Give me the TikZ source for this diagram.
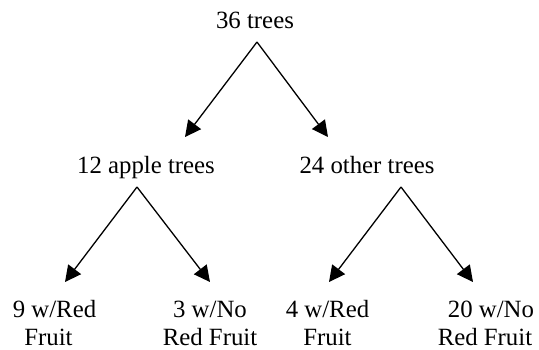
\documentclass[tikz,border=0pt]{standalone}
\usepackage{fontspec}
\setmainfont{Liberation Serif}
\usetikzlibrary{arrows.meta}
\begin{document}
\begin{tikzpicture}[x=1pt,y=-1pt,
  lbl/.style={inner sep=0pt, font=\fontsize{24.8}{27.5}\selectfont, align=center},
  arr/.style={line width=1.3pt, -{Triangle[length=16pt,width=16pt]}}]
\useasboundingbox (0,0) rectangle (539,349);
\node[lbl, anchor=base] (root) at (255,28) {36 trees};
\node[lbl, anchor=base] (apple) at (146,173) {12 apple trees};
\node[lbl, anchor=base] (other) at (367,173) {24 other trees};
\node[lbl, anchor=base] (a1) at (48.5,345) {\hspace*{12pt}9 w/Red\\Fruit};
\node[lbl, anchor=base] (a2) at (210,345) {3 w/No\\Red Fruit};
\node[lbl, anchor=base] (o1) at (327.5,345) {4 w/Red\\Fruit};
\node[lbl, anchor=base] (o2) at (485,345) {\hspace*{12pt}20 w/No\\Red Fruit};
\coordinate (rootout) at (257,42);
\coordinate (applein) at (185,137);
\coordinate (otherin) at (328,137);
\coordinate (appleout) at (137,187);
\coordinate (otherout) at (401,187);
\coordinate (a1in) at (65,282);
\coordinate (a2in) at (210,282);
\coordinate (o1in) at (329,282);
\coordinate (o2in) at (473,282);
\draw[arr] (rootout) -- (applein);
\draw[arr] (rootout) -- (otherin);
\draw[arr] (appleout) -- (a1in);
\draw[arr] (appleout) -- (a2in);
\draw[arr] (otherout) -- (o1in);
\draw[arr] (otherout) -- (o2in);
\end{tikzpicture}
\end{document}
